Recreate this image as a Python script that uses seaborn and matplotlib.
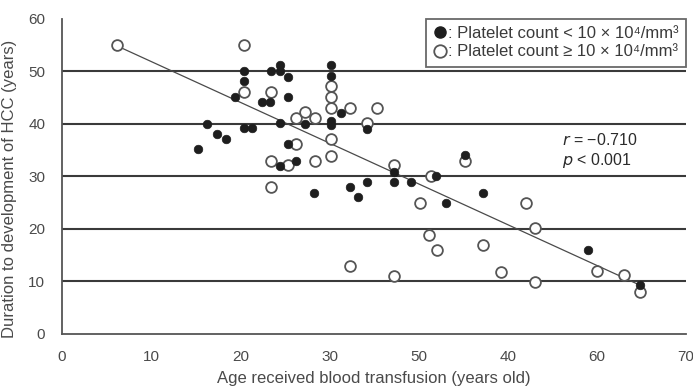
import numpy as np
import pandas as pd
import matplotlib.pyplot as plt
from matplotlib.lines import Line2D
import seaborn as sns

# points
low_age = [20.4, 20.4, 19.4, 23.4, 24.4, 24.4, 25.3, 22.4, 23.3, 25.3,
           16.3, 20.4, 21.3, 24.4, 17.4, 18.4, 15.3, 25.3, 24.4, 26.2,
           30.2, 30.2, 31.3, 27.3, 30.2, 30.2, 34.2, 37.2, 37.2, 39.2,
           41.9, 34.2, 32.3, 33.2, 28.3, 45.2, 47.2, 43.1, 59.0, 64.8]
low_dur = [50.0, 48.1, 45.0, 50.0, 51.1, 50.0, 48.9, 44.1, 44.1, 45.0,
           39.9, 39.1, 39.1, 40.1, 38.0, 37.0, 35.1, 36.1, 31.9, 32.9,
           51.1, 49.0, 42.0, 39.9, 40.4, 39.7, 38.9, 30.8, 28.9, 28.9,
           30.0, 28.9, 27.9, 26.0, 26.7, 34.0, 26.7, 24.8, 15.9, 9.2]

high_age = [6.2, 20.4, 20.4, 23.4, 26.2, 26.2, 23.4, 25.3, 23.4, 30.2,
            30.2, 30.2, 32.3, 35.3, 27.3, 28.4, 34.2, 30.2, 30.2, 28.4,
            37.2, 41.4, 40.2, 45.2, 52.1, 41.2, 42.1, 47.2, 53.1, 37.2,
            49.2, 53.1, 60.0, 63.0, 64.8, 32.3]
high_dur = [55.0, 55.0, 46.0, 46.0, 41.0, 36.1, 32.9, 32.1, 27.9, 47.1,
            45.0, 43.0, 43.0, 43.0, 42.2, 41.0, 40.1, 37.0, 33.8, 32.8,
            32.1, 30.0, 24.8, 32.8, 24.8, 18.8, 15.9, 16.9, 20.1, 11.0,
            11.7, 9.8, 11.9, 11.1, 7.9, 12.9]

x_ticks = [0, 10, 20, 30, 40, 50, 60, 70]
x_ticklabels = ['0', '10', '20', '30', '50', '40', '60', '70']  # as printed
y_ticks = [0, 10, 20, 30, 40, 50, 60]
grid_levels = [10, 20, 30, 40, 50]

low = pd.DataFrame({'age': low_age, 'dur': low_dur})
high = pd.DataFrame({'age': high_age, 'dur': high_dur})
both = pd.concat([low, high], ignore_index=True)

sns.set_style('white')
plt.rcParams['font.family'] = ['Liberation Sans', 'DejaVu Sans']
ink = '#2b2b2b'
soft = '#4a4a4a'

fig = plt.figure(figsize=(6.93, 3.87), dpi=100)
ax = fig.add_axes([0.0895, 0.138, 0.9005, 0.814])

for g in grid_levels:
    ax.axhline(g, color='#3a3a3a', lw=1.5, zorder=1)

sns.regplot(data=both, x='age', y='dur', scatter=False, ci=None, ax=ax,
            line_kws={'color': '#4a4a4a', 'lw': 0.9, 'zorder': 2})

sns.scatterplot(data=low, x='age', y='dur', ax=ax, s=38, color='#1e1e1e',
                edgecolor='#1e1e1e', linewidth=0.5, zorder=4)
sns.scatterplot(data=high, x='age', y='dur', ax=ax, s=60, facecolor='white',
                edgecolor='#555555', linewidth=1.3, zorder=3)

ax.set_xlim(0, 70)
ax.set_ylim(0, 60)
ax.set_xticks(x_ticks)
ax.set_xticklabels(x_ticklabels)
ax.set_yticks(y_ticks)
ax.tick_params(axis='x', direction='in', length=3, color=ink, labelsize=11,
               labelcolor=soft, pad=12)
ax.tick_params(axis='y', length=0, labelsize=11, labelcolor=soft, pad=12)
for side in ['top', 'right']:
    ax.spines[side].set_visible(False)
for side in ['left', 'bottom']:
    ax.spines[side].set_color('#555555')
    ax.spines[side].set_linewidth(1.3)

ax.set_xlabel('Age received blood transfusion (years old)', fontsize=12,
              color=soft, labelpad=5)
ax.set_ylabel('Duration to development of HCC (years)', fontsize=12,
              color=soft)
ax.yaxis.set_label_coords(-0.072, 0.46)

ax.text(56.1, 36.8, '$r$ = \u22120.710', fontsize=11.5, color=ink, va='center')
ax.text(56.1, 33.0, '$p$ < 0.001', fontsize=11.5, color=ink, va='center')

handles = [
    Line2D([], [], marker='o', ls='none', ms=8, mfc='#1e1e1e', mec='#1e1e1e'),
    Line2D([], [], marker='o', ls='none', ms=9, mfc='white', mec='#555555', mew=1.3),
]
labels = [': Platelet count < 10 \u00d7 10\u2074/mm\u00b3',
          ': Platelet count \u2265 10 \u00d7 10\u2074/mm\u00b3']
leg = ax.legend(handles, labels, loc='upper right', bbox_to_anchor=(1.0, 1.0),
                fontsize=12, frameon=True, fancybox=False, handlelength=0.8,
                handletextpad=0.05, borderpad=0.45, labelspacing=0.2,
                borderaxespad=0.0)
leg.get_frame().set_edgecolor('#444444')
leg.get_frame().set_linewidth(1.3)
for t in leg.get_texts():
    t.set_color('#3a3a3a')

fig.savefig('out.png', dpi=100, facecolor='white')
